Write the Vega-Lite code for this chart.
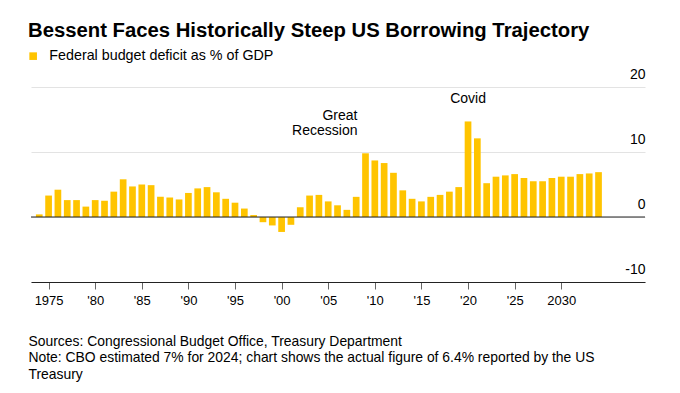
{
  "$schema": "https://vega.github.io/schema/vega-lite/v6.json",
  "width": 614,
  "height": 195,
  "autosize": {"type": "none"},
  "padding": {"left": 31, "top": 87, "right": 35, "bottom": 111},
  "background": "white",
  "title": {
    "text": "Bessent Faces Historically Steep US Borrowing Trajectory",
    "anchor": "start",
    "frame": "group",
    "dx": -3,
    "offset": 8,
    "fontSize": 20.3,
    "fontWeight": "bold",
    "color": "#000000"
  },
  "config": {
    "font": "Liberation Sans",
    "view": {"stroke": null}
  },
  "layer": [
    {
      "data": {
        "values": [
          {"year": 1974, "value": 0.4}, {"year": 1975, "value": 3.3}, {"year": 1976, "value": 4.2},
          {"year": 1977, "value": 2.6}, {"year": 1978, "value": 2.6}, {"year": 1979, "value": 1.6},
          {"year": 1980, "value": 2.6}, {"year": 1981, "value": 2.5}, {"year": 1982, "value": 3.9},
          {"year": 1983, "value": 5.8}, {"year": 1984, "value": 4.7}, {"year": 1985, "value": 5.0},
          {"year": 1986, "value": 4.9}, {"year": 1987, "value": 3.1}, {"year": 1988, "value": 3.0},
          {"year": 1989, "value": 2.7}, {"year": 1990, "value": 3.7}, {"year": 1991, "value": 4.4},
          {"year": 1992, "value": 4.6}, {"year": 1993, "value": 3.8}, {"year": 1994, "value": 2.8},
          {"year": 1995, "value": 2.2}, {"year": 1996, "value": 1.3}, {"year": 1997, "value": 0.3},
          {"year": 1998, "value": -0.8}, {"year": 1999, "value": -1.3}, {"year": 2000, "value": -2.3},
          {"year": 2001, "value": -1.2}, {"year": 2002, "value": 1.5}, {"year": 2003, "value": 3.3},
          {"year": 2004, "value": 3.4}, {"year": 2005, "value": 2.4}, {"year": 2006, "value": 1.8},
          {"year": 2007, "value": 1.1}, {"year": 2008, "value": 3.1}, {"year": 2009, "value": 9.8},
          {"year": 2010, "value": 8.7}, {"year": 2011, "value": 8.3}, {"year": 2012, "value": 6.8},
          {"year": 2013, "value": 4.1}, {"year": 2014, "value": 2.8}, {"year": 2015, "value": 2.4},
          {"year": 2016, "value": 3.1}, {"year": 2017, "value": 3.4}, {"year": 2018, "value": 3.9},
          {"year": 2019, "value": 4.6}, {"year": 2020, "value": 14.7}, {"year": 2021, "value": 12.1},
          {"year": 2022, "value": 5.2}, {"year": 2023, "value": 6.2}, {"year": 2024, "value": 6.4},
          {"year": 2025, "value": 6.6}, {"year": 2026, "value": 6.0}, {"year": 2027, "value": 5.5},
          {"year": 2028, "value": 5.5}, {"year": 2029, "value": 6.0}, {"year": 2030, "value": 6.2},
          {"year": 2031, "value": 6.2}, {"year": 2032, "value": 6.6}, {"year": 2033, "value": 6.7},
          {"year": 2034, "value": 6.9}
        ]
      },
      "transform": [{"calculate": "'Federal budget deficit as % of GDP'", "as": "series"}],
      "mark": {"type": "bar", "width": 6.7},
      "encoding": {
        "x": {
          "field": "year",
          "type": "quantitative",
          "scale": {"domain": [1973.65, 2038.45], "nice": false, "zero": false},
          "axis": {
            "values": [1975, 1980, 1985, 1990, 1995, 2000, 2005, 2010, 2015, 2020, 2025, 2030],
            "labelExpr": "(datum.value == 1975 || datum.value == 2030) ? '' + datum.value : \"'\" + substring('' + datum.value, 2, 4)",
            "grid": false,
            "domainColor": "#222222",
            "domainWidth": 1,
            "tickColor": "#666666",
            "tickSize": 7,
            "tickWidth": 1,
            "labelFontSize": 13,
            "labelColor": "#000000",
            "labelPadding": 5,
            "labelFlush": false,
            "labelOverlap": false,
            "title": [
              "Sources: Congressional Budget Office, Treasury Department",
              "Note: CBO estimated 7% for 2024; chart shows the actual figure of 6.4% reported by the US",
              "Treasury"
            ],
            "titleAnchor": "start",
            "titleAlign": "left",
            "titleBaseline": "top",
            "titleX": -3,
            "titleY": 52,
            "titleFontSize": 13.9,
            "titleFontWeight": "normal",
            "titleLineHeight": 16.5,
            "titleColor": "#000000"
          }
        },
        "y": {
          "field": "value",
          "type": "quantitative",
          "scale": {"domain": [-10, 20], "nice": false},
          "axis": {
            "orient": "right",
            "values": [-10, 0, 10, 20],
            "labelExpr": "'' + datum.value",
            "grid": true,
            "gridColor": "#e3e3e3",
            "gridWidth": 1,
            "domain": false,
            "ticks": false,
            "labelAlign": "right",
            "labelBaseline": "alphabetic",
            "labelOffset": -9,
            "labelPadding": 0,
            "labelFontSize": 14,
            "labelColor": "#000000",
            "title": null
          }
        },
        "color": {
          "field": "series",
          "type": "nominal",
          "scale": {"range": ["#ffc400"]},
          "legend": {
            "title": null,
            "orient": "none",
            "legendX": -5,
            "legendY": -38,
            "padding": 0,
            "symbolType": "square",
            "symbolSize": 58,
            "symbolStrokeWidth": 0,
            "labelFontSize": 14.3,
            "labelColor": "#000000",
            "labelOffset": 9,
            "labelLimit": 0
          }
        }
      }
    },
    {
      "data": {"values": [{"value": 0}]},
      "mark": {"type": "rule", "color": "#222222", "strokeWidth": 1},
      "encoding": {"y": {"field": "value", "type": "quantitative"}}
    },
    {
      "data": {"values": [{"year": 2009, "value": 15.6, "label": ["Great", "Recession"]}]},
      "mark": {"type": "text", "fontSize": 14, "baseline": "middle", "align": "right", "dx": -8, "lineHeight": 15, "color": "#000000"},
      "encoding": {
        "x": {"field": "year", "type": "quantitative"},
        "y": {"field": "value", "type": "quantitative"},
        "text": {"field": "label"}
      }
    },
    {
      "data": {"values": [{"year": 2020, "value": 18.1, "label": "Covid"}]},
      "mark": {"type": "text", "fontSize": 14, "baseline": "middle", "align": "center", "color": "#000000"},
      "encoding": {
        "x": {"field": "year", "type": "quantitative"},
        "y": {"field": "value", "type": "quantitative"},
        "text": {"field": "label"}
      }
    }
  ]
}
